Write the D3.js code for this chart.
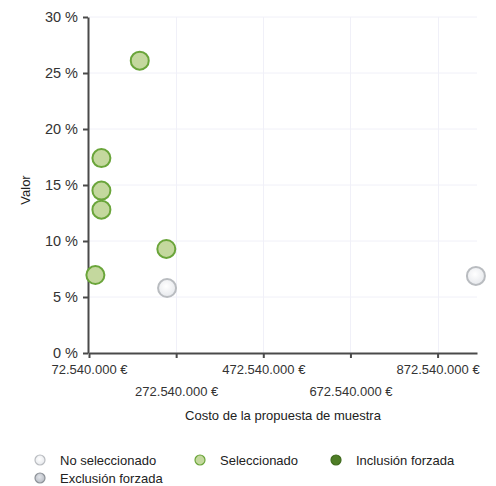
<!DOCTYPE html>
<html>
<head>
<meta charset="utf-8">
<script src="https://cdn.jsdelivr.net/npm/d3@7/dist/d3.min.js"></script>
<style>
  html, body { margin: 0; padding: 0; background: #fff; }
  svg { display: block; font-family: "Liberation Sans", Arial, sans-serif; }
</style>
</head>
<body>
<svg id="chart" width="496" height="486"></svg>
<script>
// Proposal cost (EUR), value (%) and selection status of each sample proposal
const costs  = [87200000, 101000000, 101000000, 101000000, 189000000, 250000000, 251700000, 960500000];
const values = [6.96, 17.4, 14.5, 12.8, 26.1, 9.29, 5.8, 6.88];
const status = ["sel", "sel", "sel", "sel", "sel", "sel", "no", "no"];

const xTicks = [72540000, 272540000, 472540000, 672540000, 872540000];
const yTicks = [0, 5, 10, 15, 20, 25, 30];

const legendKeys   = ["no", "sel", "inc", "exc"];
const legendLabels = ["No seleccionado", "Seleccionado", "Inclusión forzada", "Exclusión forzada"];

const styles = {
  no:  { fill: "url(#gNo)",  stroke: "#b9bcc0" },
  sel: { fill: "#c4d89e",    stroke: "#6aa53a" },
  inc: { fill: "#4e7d26",    stroke: "#3f6a1c" },
  exc: { fill: "url(#gExc)", stroke: "#8d9298" }
};

const es = d3.formatLocale({ decimal: ",", thousands: ".", grouping: [3], currency: ["", " €"] });
const fmtCost = es.format("$,.0f");

const svg = d3.select("#chart");
const defs = svg.append("defs");
const gNo = defs.append("radialGradient").attr("id", "gNo").attr("cx", "45%").attr("cy", "40%").attr("r", "60%");
gNo.append("stop").attr("offset", "0%").attr("stop-color", "#ffffff");
gNo.append("stop").attr("offset", "100%").attr("stop-color", "#e6e8ec");
const gExc = defs.append("radialGradient").attr("id", "gExc").attr("cx", "45%").attr("cy", "40%").attr("r", "60%");
gExc.append("stop").attr("offset", "0%").attr("stop-color", "#e2e5ea");
gExc.append("stop").attr("offset", "100%").attr("stop-color", "#b8bcc4");

const x = d3.scaleLinear().domain([72540000, 963000000]).range([89, 477]);
const y = d3.scaleLinear().domain([0, 30]).range([353, 17]);

// grid
const grid = svg.append("g");
grid.selectAll("line.h").data(yTicks.filter(d => d > 0)).join("line")
  .attr("x1", x.range()[0]).attr("x2", x.range()[1])
  .attr("y1", d => y(d)).attr("y2", d => y(d))
  .attr("stroke", "#f0f0f8").attr("stroke-width", 1);
grid.selectAll("line.v").data(xTicks.slice(1)).join("line")
  .attr("x1", d => Math.round(x(d)) + 0.5).attr("x2", d => Math.round(x(d)) + 0.5)
  .attr("y1", y(30)).attr("y2", y(0))
  .attr("stroke", "#f0f0f8").attr("stroke-width", 1);

// y axis
const yAxis = svg.append("g").attr("transform", "translate(88,0)")
  .call(d3.axisLeft(y).tickValues(yTicks).tickSize(5).tickSizeOuter(0).tickPadding(5).tickFormat(d => d + " %"));
yAxis.select(".domain").attr("stroke", "#4a4a4a").attr("stroke-width", 2);
yAxis.selectAll(".tick line").attr("stroke", "#4a4a4a").attr("stroke-width", 2);
yAxis.selectAll(".tick text").attr("fill", "#333").attr("font-size", "14.5px")
  .attr("font-family", "'Liberation Sans', Arial, sans-serif");

// x axis
const xAxis = svg.append("g").attr("transform", "translate(0,353)")
  .call(d3.axisBottom(x).tickValues(xTicks).tickSize(5).tickSizeOuter(0).tickPadding(4).tickFormat(fmtCost));
xAxis.select(".domain").attr("stroke", "#4a4a4a").attr("stroke-width", 2);
xAxis.selectAll(".tick line").attr("stroke", "#4a4a4a").attr("stroke-width", 2);
xAxis.selectAll(".tick text").attr("fill", "#333").attr("font-size", "13px")
  .attr("font-family", "'Liberation Sans', Arial, sans-serif")
  .attr("y", (d, i) => i % 2 === 0 ? 12 : 34);

// axis titles
svg.append("text").attr("x", 283).attr("y", 420).attr("text-anchor", "middle")
  .attr("font-size", "13px").attr("fill", "#222").text("Costo de la propuesta de muestra");
svg.append("text").attr("transform", "translate(30,190) rotate(-90)").attr("text-anchor", "middle")
  .attr("font-size", "13px").attr("fill", "#222").text("Valor");

// points
const pts = costs.map((c, i) => ({ c, v: values[i], s: status[i] }));
svg.append("g").selectAll("circle").data(pts).join("circle")
  .attr("cx", d => x(d.c)).attr("cy", d => y(d.v)).attr("r", 9)
  .attr("fill", d => styles[d.s].fill).attr("stroke", d => styles[d.s].stroke).attr("stroke-width", 2);

// legend
const legendPos = [[40, 460], [200, 460], [336, 460], [40, 478]];
const lg = svg.append("g").selectAll("g").data(legendKeys).join("g")
  .attr("transform", (d, i) => `translate(${legendPos[i][0]},${legendPos[i][1]})`);
lg.append("circle").attr("r", 5).attr("fill", d => styles[d].fill)
  .attr("stroke", d => styles[d].stroke).attr("stroke-width", 1.2);
lg.append("text").attr("x", 20).attr("dy", "0.35em").attr("font-size", "13px").attr("fill", "#222")
  .text((d, i) => legendLabels[i]);
</script>
</body>
</html>
